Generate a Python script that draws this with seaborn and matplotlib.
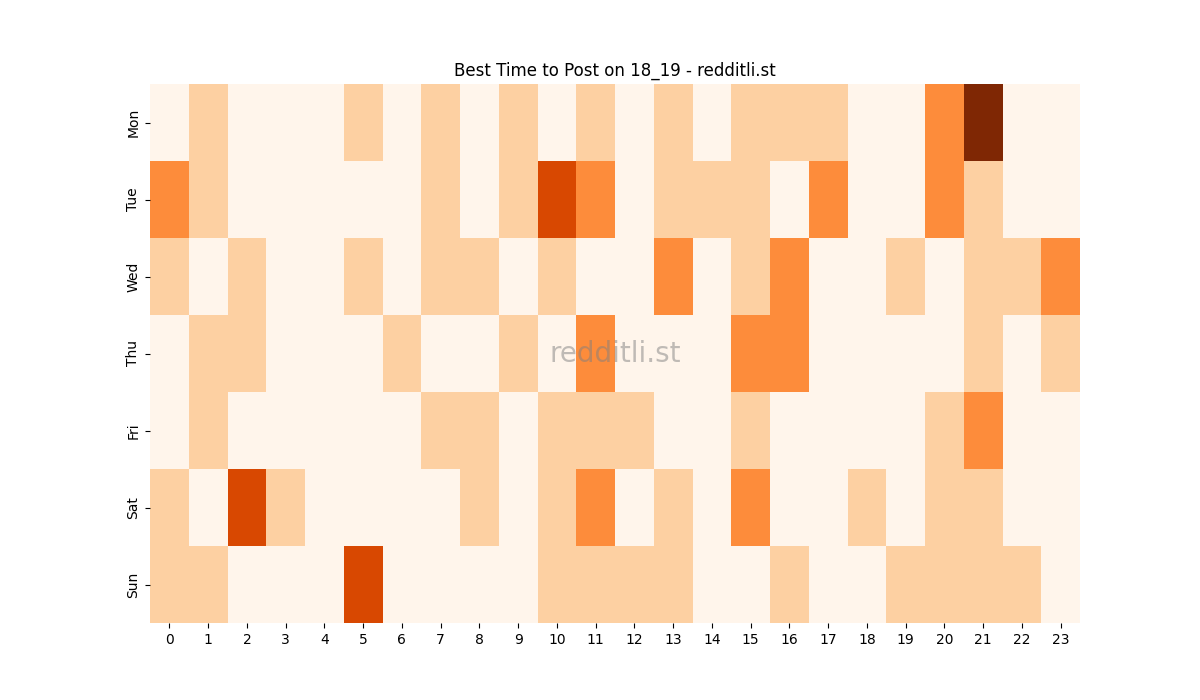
import matplotlib
matplotlib.use("Agg")
import matplotlib.pyplot as plt
import seaborn as sns
import pandas as pd

days = ['Mon', 'Tue', 'Wed', 'Thu', 'Fri', 'Sat', 'Sun']
hours = list(range(24))

mon = [0, 1, 0, 0, 0, 1, 0, 1, 0, 1, 0, 1, 0, 1, 0, 1, 1, 1, 0, 0, 2, 4, 0, 0]
tue = [2, 1, 0, 0, 0, 0, 0, 1, 0, 1, 3, 2, 0, 1, 1, 1, 0, 2, 0, 0, 2, 1, 0, 0]
wed = [1, 0, 1, 0, 0, 1, 0, 1, 1, 0, 1, 0, 0, 2, 0, 1, 2, 0, 0, 1, 0, 1, 1, 2]
thu = [0, 1, 1, 0, 0, 0, 1, 0, 0, 1, 0, 2, 0, 0, 0, 2, 2, 0, 0, 0, 0, 1, 0, 1]
fri = [0, 1, 0, 0, 0, 0, 0, 1, 1, 0, 1, 1, 1, 0, 0, 1, 0, 0, 0, 0, 1, 2, 0, 0]
sat = [1, 0, 3, 1, 0, 0, 0, 0, 1, 0, 1, 2, 0, 1, 0, 2, 0, 0, 1, 0, 1, 1, 0, 0]
sun = [1, 1, 0, 0, 0, 3, 0, 0, 0, 0, 1, 1, 1, 1, 0, 0, 1, 0, 0, 1, 1, 1, 1, 0]

df = pd.DataFrame([mon, tue, wed, thu, fri, sat, sun], index=days, columns=hours)

fig, ax = plt.subplots(figsize=(12, 7), dpi=100)
sns.heatmap(df, cmap='Oranges', cbar=False, ax=ax)
ax.set_title('Best Time to Post on 18_19 - redditli.st')
ax.text(0.5, 0.5, 'redditli.st', transform=ax.transAxes, ha='center', va='center',
        fontsize=20, color='gray', alpha=0.5)
plt.savefig('out.png')
